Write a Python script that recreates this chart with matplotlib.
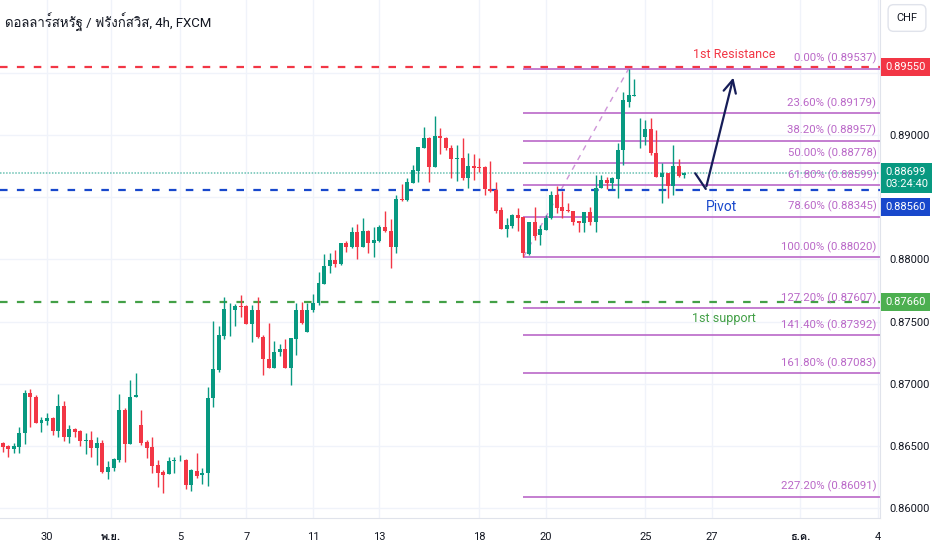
import numpy as np
import matplotlib
matplotlib.use('Agg')
import matplotlib.pyplot as plt
import matplotlib.transforms as mtransforms
from matplotlib import font_manager
from matplotlib.ft2font import FT2Font

# 4h candles, USD/CHF (FXCM)
opens = [0.86520, 0.86498, 0.86472, 0.86488, 0.86600, 0.86922, 0.86896, 0.86686, 0.86702, 0.86726,
	0.86619, 0.86820, 0.86573, 0.86632, 0.86619, 0.86541, 0.86547, 0.86480, 0.86523, 0.86286,
	0.86318, 0.86386, 0.86788, 0.86514, 0.86893, 0.86667, 0.86533, 0.86488, 0.86345, 0.86292,
	0.86270, 0.86380, 0.86383, 0.86386, 0.86184, 0.86300, 0.86262, 0.86278, 0.86882, 0.87110,
	0.87384, 0.87599, 0.87593, 0.87628, 0.87626, 0.87478, 0.87593, 0.87379, 0.87199, 0.87129,
	0.87258, 0.87277, 0.87129, 0.87360, 0.87593, 0.87419, 0.87593, 0.87647, 0.87800, 0.87948,
	0.87996, 0.87964, 0.88130, 0.88103, 0.88224, 0.88103, 0.88232, 0.88130, 0.88152, 0.88259,
	0.88232, 0.88098, 0.88484, 0.88479, 0.88619, 0.88713, 0.88900, 0.88981, 0.88747, 0.88994,
	0.88981, 0.88895, 0.88806, 0.88820, 0.88653, 0.88753, 0.88745, 0.88747, 0.88565, 0.88560,
	0.88398, 0.88246, 0.88270, 0.88358, 0.88339, 0.88044, 0.88299, 0.88197, 0.88237, 0.88331,
	0.88519, 0.88420, 0.88398, 0.88393, 0.88310, 0.88291, 0.88385, 0.88305, 0.88573, 0.88640,
	0.88613, 0.88645, 0.88882, 0.89271, 0.89318, 0.88983, 0.88989, 0.89048, 0.88860, 0.88667,
	0.88694, 0.88594, 0.88755, 0.88680]
highs = [0.86533, 0.86506, 0.86520, 0.86654, 0.86949, 0.86955, 0.86909, 0.86735, 0.86761, 0.86735,
	0.86917, 0.86863, 0.86667, 0.86640, 0.86627, 0.86600, 0.86616, 0.86568, 0.86547, 0.86380,
	0.86399, 0.86917, 0.86802, 0.87030, 0.87083, 0.86788, 0.86547, 0.86568, 0.86386, 0.86305,
	0.86407, 0.86407, 0.86426, 0.86391, 0.86310, 0.86445, 0.86318, 0.86976, 0.87508, 0.87465,
	0.87701, 0.87652, 0.87642, 0.87714, 0.87634, 0.87634, 0.87701, 0.87392, 0.87491, 0.87346,
	0.87320, 0.87357, 0.87365, 0.87647, 0.87660, 0.87647, 0.87722, 0.87902, 0.88044, 0.88055,
	0.88077, 0.88130, 0.88152, 0.88259, 0.88286, 0.88332, 0.88238, 0.88259, 0.88278, 0.88393,
	0.88326, 0.88519, 0.88608, 0.88653, 0.88761, 0.88908, 0.89069, 0.88990, 0.89155, 0.89056,
	0.88990, 0.88922, 0.88922, 0.88976, 0.88855, 0.88849, 0.88815, 0.88750, 0.88796, 0.88627,
	0.88420, 0.88331, 0.88366, 0.88412, 0.88345, 0.88299, 0.88425, 0.88278, 0.88358, 0.88550,
	0.88590, 0.88550, 0.88452, 0.88393, 0.88310, 0.88385, 0.88420, 0.88680, 0.88680, 0.88667,
	0.88662, 0.88935, 0.89351, 0.89537, 0.89451, 0.89137, 0.89123, 0.89137, 0.89043, 0.88774,
	0.88700, 0.88922, 0.88809, 0.88705]
lows = [0.86453, 0.86407, 0.86440, 0.86445, 0.86514, 0.86654, 0.86680, 0.86614, 0.86667, 0.86587,
	0.86568, 0.86541, 0.86520, 0.86573, 0.86498, 0.86431, 0.86407, 0.86345, 0.86278, 0.86230,
	0.86297, 0.86372, 0.86372, 0.86514, 0.86890, 0.86506, 0.86405, 0.86278, 0.86171, 0.86123,
	0.86270, 0.86284, 0.86380, 0.86149, 0.86139, 0.86238, 0.86192, 0.86176, 0.86815, 0.87097,
	0.87357, 0.87384, 0.87467, 0.87534, 0.87478, 0.87338, 0.87365, 0.87070, 0.87129, 0.87129,
	0.87223, 0.87129, 0.86992, 0.87231, 0.87478, 0.87419, 0.87580, 0.87634, 0.87800, 0.87894,
	0.87937, 0.87956, 0.88063, 0.88090, 0.88004, 0.88103, 0.88055, 0.88023, 0.88144, 0.88224,
	0.87929, 0.88050, 0.88474, 0.88474, 0.88619, 0.88627, 0.88900, 0.88627, 0.88747, 0.88849,
	0.88882, 0.88653, 0.88632, 0.88640, 0.88573, 0.88640, 0.88707, 0.88519, 0.88546, 0.88377,
	0.88246, 0.88184, 0.88256, 0.88229, 0.88020, 0.88040, 0.88157, 0.88117, 0.88237, 0.88326,
	0.88372, 0.88331, 0.88380, 0.88278, 0.88224, 0.88224, 0.88278, 0.88224, 0.88573, 0.88565,
	0.88565, 0.88492, 0.88761, 0.89231, 0.89316, 0.88895, 0.88922, 0.88841, 0.88667, 0.88458,
	0.88493, 0.88519, 0.88667, 0.88653]
closes = [0.86493, 0.86474, 0.86498, 0.86606, 0.86922, 0.86890, 0.86686, 0.86708, 0.86721, 0.86619,
	0.86820, 0.86573, 0.86632, 0.86608, 0.86541, 0.86547, 0.86480, 0.86520, 0.86286, 0.86326,
	0.86391, 0.86788, 0.86514, 0.86896, 0.86906, 0.86525, 0.86480, 0.86337, 0.86284, 0.86265,
	0.86380, 0.86386, 0.86386, 0.86184, 0.86305, 0.86257, 0.86284, 0.86887, 0.87116, 0.87392,
	0.87601, 0.87604, 0.87626, 0.87620, 0.87478, 0.87593, 0.87379, 0.87196, 0.87129, 0.87258,
	0.87277, 0.87129, 0.87365, 0.87593, 0.87486, 0.87593, 0.87652, 0.87808, 0.87950, 0.87996,
	0.87964, 0.88130, 0.88103, 0.88224, 0.88103, 0.88232, 0.88130, 0.88157, 0.88259, 0.88232,
	0.88103, 0.88484, 0.88479, 0.88627, 0.88721, 0.88908, 0.88981, 0.88747, 0.88994, 0.88981,
	0.88895, 0.88806, 0.88820, 0.88653, 0.88753, 0.88739, 0.88739, 0.88565, 0.88554, 0.88390,
	0.88246, 0.88278, 0.88358, 0.88331, 0.88050, 0.88299, 0.88192, 0.88243, 0.88337, 0.88519,
	0.88412, 0.88390, 0.88390, 0.88305, 0.88291, 0.88385, 0.88305, 0.88573, 0.88640, 0.88613,
	0.88653, 0.88882, 0.89284, 0.89324, 0.89324, 0.88989, 0.89048, 0.88855, 0.88667, 0.88694,
	0.88594, 0.88755, 0.88672, 0.88699]

# time axis (bar index of each date label)
date_pos = [8, 19.5, 32, 44, 56, 68, 86, 98, 116, 128, 144, 158]
date_labels = ['30', 'พ.ย.', '5', '7', '11', '13', '18', '20', '25', '27', 'ธ.ค.', '4']

# price scale: grid levels, and the ones whose label shows (others sit under the tags)
price_grid = [0.860, 0.865, 0.870, 0.875, 0.880, 0.885, 0.890, 0.895]
price_shown = [0.860, 0.865, 0.870, 0.875, 0.880, 0.890]

# levels drawn on the chart
resistance = 0.89550
pivot = 0.88560
support = 0.87660
last_price = 0.88699
countdown = '03:24:40'
fib_pct = ['0.00%', '23.60%', '38.20%', '50.00%', '61.80%', '78.60%', '100.00%',
	'127.20%', '141.40%', '161.80%', '227.20%']
fib_levels = [0.89537, 0.89179, 0.88957, 0.88778, 0.88599, 0.88345, 0.88020,
	0.87607, 0.87392, 0.87083, 0.86091]
fib_start = 94		# bar of the swing low
fib_end = 113		# bar of the swing high
arrow_x = [125, 126.9, 132]
arrow_y = [0.88694, 0.88568, 0.89486]

title = 'ดอลลาร์สหรัฐ / ฟรังก์สวิส, 4h, FXCM'

GREEN = '#089981'
RED = '#f23645'
FIBC = '#ba68c8'
TXT = '#131722'

def thai_family():
	# look for an installed family that has thai glyphs
	for f in font_manager.fontManager.ttflist:
		try:
			if 0x0E14 in FT2Font(f.fname).get_charmap():
				return f.name
		except Exception:
			pass
	return 'DejaVu Sans'

def plot_chart():
	plt.rcParams['font.family'] = ['Roboto', thai_family(), 'DejaVu Sans']
	fig = plt.figure(figsize=(9.32, 5.5), dpi=100)
	ax = fig.add_axes([0.0, 32/550., 880/932., 518/550.])

	xl, xr = -0.49, 158.35
	yl, yu = 0.85919, 0.90089

	o = np.array(opens); h = np.array(highs); l = np.array(lows); c = np.array(closes)
	idx = np.arange(len(o))
	up = c >= o
	cols = np.where(up, GREEN, RED)

	#wicks and bodies
	ax.vlines(idx, l, h, colors=cols, linewidth=1, zorder=3)
	bottom = np.minimum(o, c)
	height = np.maximum(np.abs(c - o), 0.00003)
	ax.bar(idx, height, bottom=bottom, width=0.72, color=cols, linewidth=0, zorder=4)

	#horizontal levels
	dash = (0, (3.4, 4.2))
	ax.axhline(resistance, color=RED, lw=1.6, ls=dash, zorder=2)
	ax.axhline(pivot, color='#1848cc', lw=1.6, ls=dash, zorder=2)
	ax.axhline(support, color='#43a047', lw=1.6, ls=dash, zorder=2)
	ax.axhline(last_price, color=GREEN, lw=1.1, ls=(0, (1, 1)), alpha=0.6, zorder=2)

	#fib retracement
	ax.hlines(fib_levels, fib_start, xr, colors=FIBC, lw=1.2, zorder=2)
	ax.plot([fib_start, fib_end], [fib_levels[6], fib_levels[0]], color=FIBC, lw=1,
		ls=(0, (4, 4)), alpha=0.7, zorder=2)
	for p, lev in zip(fib_pct, fib_levels):
		ax.annotate('%s (%.5f)' % (p, lev), xy=(157.7, lev), xytext=(0, 3),
			textcoords='offset points', ha='right', va='bottom', fontsize=8.2, color=FIBC)

	#hand drawn arrow
	ax.plot(arrow_x[:2], arrow_y[:2], color='#161d58', lw=1.6, solid_capstyle='round', zorder=5)
	ax.annotate('', xy=(arrow_x[2], arrow_y[2]), xytext=(arrow_x[1], arrow_y[1]),
		arrowprops=dict(arrowstyle='->,head_length=0.9,head_width=0.45', color='#161d58', lw=1.6),
		zorder=5)

	ax.text(132, 0.89647, '1st Resistance', color=RED, fontsize=9, ha='center', va='center')
	ax.text(129.8, 0.88423, 'Pivot', color='#1848cc', fontsize=10, ha='center', va='center')
	ax.text(130.2, 0.87529, '1st support', color='#43a047', fontsize=9, ha='center', va='center')

	#axes and grid
	ax.set_xlim(xl, xr)
	ax.set_ylim(yl, yu)
	ax.set_xticks(date_pos)
	ax.set_xticklabels(date_labels)
	for t in ax.get_xticklabels():
		if not t.get_text().isdigit():
			t.set_fontweight('bold')
	ax.set_yticks(price_grid)
	ax.set_yticklabels(['%.5f' % v if v in price_shown else '' for v in price_grid])
	ax.yaxis.tick_right()
	ax.tick_params(axis='both', length=0, labelsize=8, labelcolor=TXT)
	ax.tick_params(axis='x', pad=10)
	ax.tick_params(axis='y', pad=7)
	ax.grid(True, color='#f0f3fa', lw=1, zorder=0)
	ax.set_axisbelow(True)
	for s in ['top', 'left']:
		ax.spines[s].set_visible(False)
	for s in ['right', 'bottom']:
		ax.spines[s].set_color('#e0e3eb')
		ax.spines[s].set_linewidth(0.8)

	#price tags on the right scale
	tr = mtransforms.blended_transform_factory(ax.transAxes, ax.transData)
	def tag(y, s, fc):
		ax.text(1.006, y, s, transform=tr, ha='left', va='center', fontsize=8, color='white',
			bbox=dict(boxstyle='square,pad=0.35', fc=fc, ec='none'), zorder=10, clip_on=False)
	tag(resistance, '%.5f' % resistance, RED)
	tag(last_price - 0.00043, '%.5f\n%s' % (last_price, countdown), GREEN)
	tag(pivot - 0.00137, '%.5f' % pivot, '#1848cc')
	tag(support, '%.5f' % support, '#4caf50')

	fig.text(5/932., 1 - 22/550., title, fontsize=9.5, color=TXT, va='center')
	fig.text(907/932., 1 - 18/550., 'CHF', fontsize=8, color=TXT, ha='center', va='center',
		bbox=dict(boxstyle='round,pad=0.75,rounding_size=0.5', fc='white', ec='#e0e3eb'))

	plt.savefig('out.png', dpi=100)

if __name__ == "__main__":
	plot_chart()
